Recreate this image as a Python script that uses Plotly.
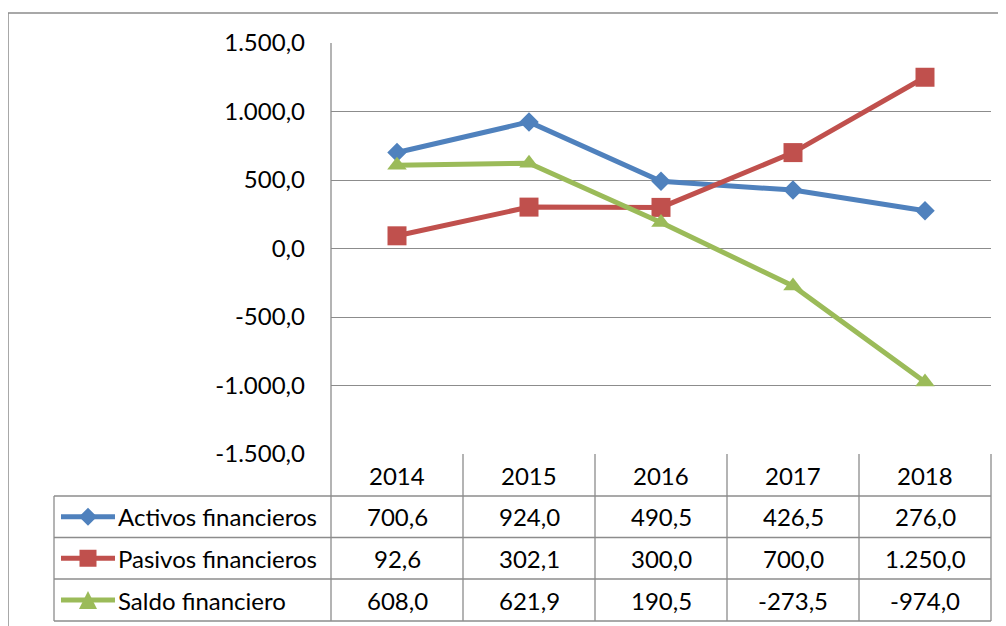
import plotly.graph_objects as go

W, H = 1006, 626

years = ["2014", "2015", "2016", "2017", "2018"]
activos = [700.6, 924.0, 490.5, 426.5, 276.0]
pasivos = [92.6, 302.1, 300.0, 700.0, 1250.0]
saldo = [608.0, 621.9, 190.5, -273.5, -974.0]
series_names = ["Activos financieros", "Pasivos financieros", "Saldo financiero"]
y_ticks = [-1500, -1000, -500, 0, 500, 1000, 1500]

colors = ["#4F81BD", "#C0504D", "#9BBB59"]
symbols = ["diamond", "square", "triangle-up"]
msizes = [15, 19, 17]
GRID = "#8c8c8c"
FONT = "Lato"
FS = 24

# page body has an 8px margin; compensate so pixels match the reference
OX, OY = 8, 8

def fmt(v):
    s = f"{abs(v):,.1f}".replace(",", "X").replace(".", ",").replace("X", ".")
    return ("-" if v < 0 else "") + s

def px(x):
    return (x - OX) / W

def py(y):
    return 1 - (y - OY) / H

# plot area in pixels (reference coordinates)
PL, PR, PT, PB = 331, 991, 43, 454

fig = go.Figure()
for name, vals, c, sym, ms in zip(series_names, [activos, pasivos, saldo], colors, symbols, msizes):
    fig.add_trace(go.Scatter(
        x=years, y=vals, name=name, mode="lines+markers",
        line=dict(color=c, width=5),
        marker=dict(symbol=sym, size=ms, color=c),
        showlegend=False,
    ))

shapes = []
def line(x0, y0, x1, y1, color=GRID, w=1.3):
    shapes.append(dict(type="line", xref="paper", yref="paper",
                       x0=px(x0), y0=py(y0), x1=px(x1), y1=py(y1),
                       line=dict(color=color, width=w)))

# outer chart border
shapes.append(dict(type="rect", xref="paper", yref="paper",
                   x0=px(8), y0=py(13), x1=px(1030), y1=py(650),
                   line=dict(color=GRID, width=1.5)))

# table geometry
row_edges = [PB, 496, 537.5, 579, 621]
col_w = (PR - PL) / len(years)
LEG_L = 54
line(PL, PT, PL, row_edges[-1])
line(PR, PB, PR, row_edges[-1])
for i in range(1, len(years)):
    xx = PL + i * col_w
    line(xx, PB, xx, row_edges[-1])
for ye in row_edges[1:]:
    line(LEG_L, ye, PR, ye)
line(LEG_L, row_edges[1], LEG_L, row_edges[-1])

annotations = []
row_centers = [(row_edges[i] + row_edges[i + 1]) / 2 for i in range(4)]
for i, yr in enumerate(years):
    annotations.append(dict(x=px(PL + (i + 0.5) * col_w), y=py(row_centers[0]),
                            xref="paper", yref="paper", text=yr, showarrow=False,
                            font=dict(family=FONT, size=FS, color="black"),
                            xanchor="center", yanchor="middle"))
for r, (name, vals, c) in enumerate(zip(series_names, [activos, pasivos, saldo], colors)):
    cy = row_centers[r + 1]
    for i, v in enumerate(vals):
        annotations.append(dict(x=px(PL + (i + 0.5) * col_w), y=py(cy),
                                xref="paper", yref="paper", text=fmt(v), showarrow=False,
                                font=dict(family=FONT, size=FS, color="black"),
                                xanchor="center", yanchor="middle"))
    annotations.append(dict(x=px(116), y=py(cy), xref="paper", yref="paper",
                            text=name, showarrow=False,
                            font=dict(family=FONT, size=FS, color="black"),
                            xanchor="left", yanchor="middle"))
    line(61, cy, 115, cy, color=c, w=5)
    mx = 88
    if r == 0:
        d = 9
        path = f"M {px(mx-d)},{py(cy)} L {px(mx)},{py(cy-d)} L {px(mx+d)},{py(cy)} L {px(mx)},{py(cy+d)} Z"
    elif r == 1:
        d = 8.5
        path = f"M {px(mx-d)},{py(cy-d)} L {px(mx+d)},{py(cy-d)} L {px(mx+d)},{py(cy+d)} L {px(mx-d)},{py(cy+d)} Z"
    else:
        d = 9
        path = f"M {px(mx-d)},{py(cy+d)} L {px(mx+d)},{py(cy+d)} L {px(mx)},{py(cy-d)} Z"
    shapes.append(dict(type="path", xref="paper", yref="paper", path=path,
                       fillcolor=c, line=dict(color=c, width=0)))

fig.update_layout(
    width=W, height=H,
    margin=dict(l=0, r=0, t=0, b=0),
    paper_bgcolor="white", plot_bgcolor="white",
    font=dict(family=FONT, size=FS, color="black"),
    shapes=shapes, annotations=annotations,
    xaxis=dict(domain=[px(PL), px(PR)], range=[-0.5, 4.5], showticklabels=False,
               showgrid=False, zeroline=False, showline=False, ticks="",
               type="category", automargin=False),
    yaxis=dict(domain=[py(PB), py(PT)], range=[-1500, 1500],
               tickvals=y_ticks, ticktext=[fmt(v) for v in y_ticks],
               showgrid=True, gridcolor=GRID, gridwidth=1.3, zeroline=False,
               showline=False, ticks="", ticklabelstandoff=25,
               tickfont=dict(family=FONT, size=FS, color="black"), automargin=False),
)

fig.write_html("out.html")
